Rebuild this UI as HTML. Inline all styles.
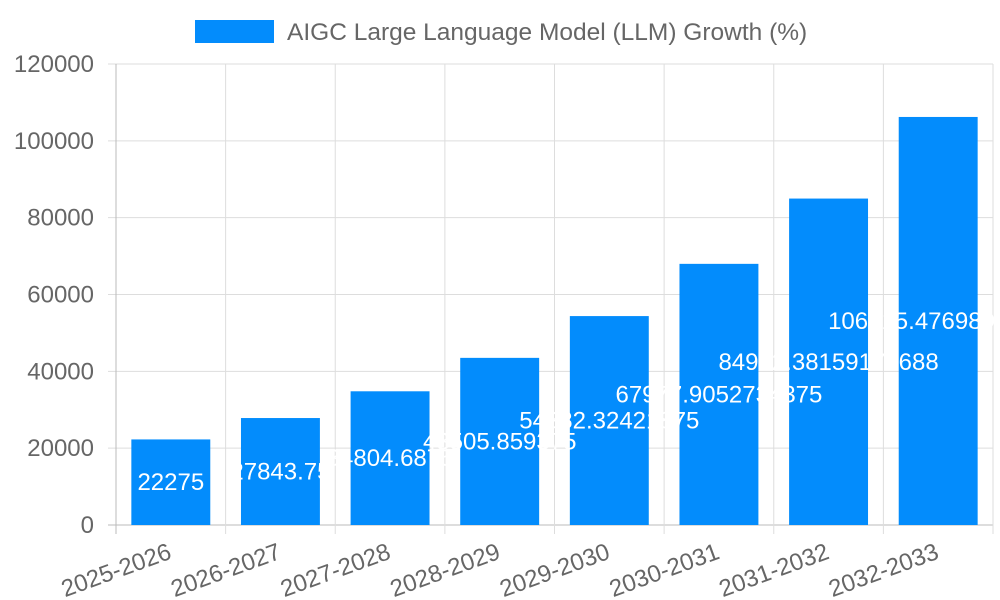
<!DOCTYPE html>
<html><head><meta charset="utf-8"><style>
body{margin:0;background:#fff;}
svg{display:block;font-family:"Liberation Sans",sans-serif;}
</style></head><body>
<svg id="chart" width="1000" height="600"></svg>
<script>
const categories=["2025-2026","2026-2027","2027-2028","2028-2029","2029-2030","2030-2031","2031-2032","2032-2033"];
const values=[22275,27843.75,34804.6875,43505.859375,54382.32421875,67977.9052734375,84972.381591796875,106215.47698974609];
const yTicks=[0,20000,40000,60000,80000,100000,120000];
const NS="http://www.w3.org/2000/svg";
const svg=document.getElementById('chart');
const L=116,R=993,T=64,B=525,yMax=120000;
const y=v=>B-(v/yMax)*(B-T);
const bw=(R-L)/categories.length;
const x=i=>L+bw*i;
function mk(t,a,txt){const e=document.createElementNS(NS,t);for(const k in a)e.setAttribute(k,a[k]);if(txt!=null)e.textContent=txt;svg.appendChild(e);return e;}
yTicks.forEach(t=>{
 const l=mk('line',{x1:L-8,x2:R,y1:y(t),y2:y(t),stroke:t===0?'#bbb':'#ddd','stroke-width':1});
 
 
 const tx=mk('text',{x:L-22,y:y(t)+8,'text-anchor':'end','font-size':24,fill:'#666'},t);
 
 
});
for(let i=0;i<=categories.length;i++){
 const l=mk('line',{x1:x(i),x2:x(i),y1:T,y2:B+9,stroke:i===0?'#bbb':'#ddd','stroke-width':1});
 
 
}
values.forEach((v,i)=>{
 const bx=x(i)+bw*0.14,w=bw*0.72;
 const r=mk('rect',{x:bx,y:y(v),width:w,height:B-y(v),fill:'#038cfc'});
 
 
});
values.forEach((v,i)=>{
 const t=mk('text',{x:x(i)+bw/2,y:(y(v)+B)/2+8,'text-anchor':'middle','font-size':24,fill:'#fff'},String(v));
 
 
});
categories.forEach((c,i)=>{
 const cx=x(i)+bw/2+2,cy=B+33;
 const t=mk('text',{x:cx,y:cy,'text-anchor':'end','font-size':24,fill:'#666',transform:`rotate(-20 ${cx} ${cy})`},c);
 
 
});
const lb=mk('rect',{x:195,y:20,width:79,height:23,fill:'#038cfc'});


const lt=mk('text',{x:287,y:40,'font-size':24.5,fill:'#666'},'AIGC Large Language Model (LLM) Growth (%)');


</script>
</body></html>
